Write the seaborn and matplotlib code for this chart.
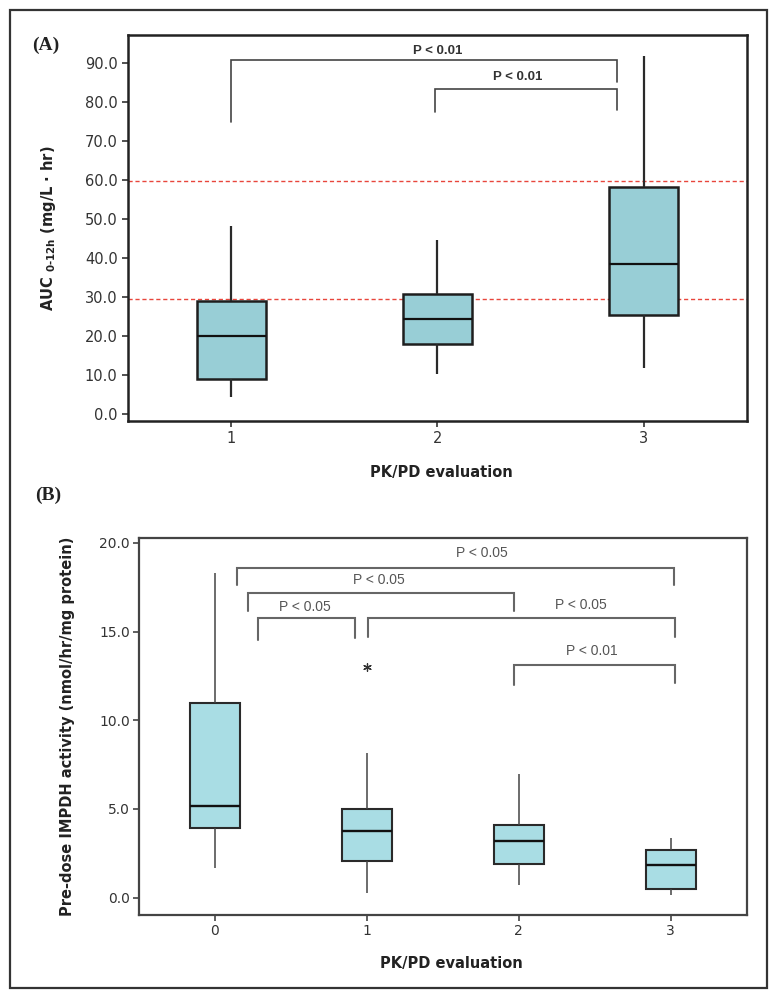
import numpy as np
import pandas as pd
import matplotlib
matplotlib.use("Agg")
import matplotlib.pyplot as plt
import seaborn as sns
from matplotlib.patches import Rectangle

# ---------------- data ----------------
# Panel A: AUC 0-12h by PK/PD evaluation (five-number summaries)
a_groups = ["1", "2", "3"]
a_low = [4.4, 10.3, 11.7]
a_q1 = [8.9, 17.9, 25.4]
a_med = [20.1, 24.3, 38.4]
a_q3 = [29.0, 30.9, 58.3]
a_high = [48.2, 44.6, 91.8]
a_ref_lines = [59.7, 29.5]
a_yticks = [0.0, 10.0, 20.0, 30.0, 40.0, 50.0, 60.0, 70.0, 80.0, 90.0]
# brackets: (x_left, x_right, y_bar, y_left_end, y_right_end, label, text_x, text_y)
a_brackets = [
    (0.00, 1.87, 90.9, 75.0, 85.1, "P < 0.01", 1.00, 93.0),
    (0.99, 1.87, 83.4, 77.4, 77.9, "P < 0.01", 1.39, 86.4),
]

# Panel B: pre-dose IMPDH activity by PK/PD evaluation
b_groups = ["0", "1", "2", "3"]
b_low = [1.66, 0.28, 0.72, 0.15]
b_q1 = [3.95, 2.09, 1.90, 0.49]
b_med = [5.14, 3.76, 3.22, 1.85]
b_q3 = [10.97, 4.99, 4.08, 2.71]
b_high = [18.3, 8.18, 6.96, 3.35]
b_outlier_group = ["1"]
b_outlier_value = [12.98]
b_yticks = [0.0, 5.0, 10.0, 15.0, 20.0]
b_brackets = [
    (0.147, 3.02, 18.59, 17.65, 17.65, "P < 0.05", 1.76, 19.43),
    (0.22, 1.97, 17.18, 16.14, 16.14, "P < 0.05", 1.08, 17.93),
    (0.286, 0.925, 15.77, 14.54, 14.64, "P < 0.05", 0.59, 16.39),
    (1.01, 3.03, 15.77, 14.70, 14.70, "P < 0.05", 2.41, 16.52),
    (1.97, 3.03, 13.13, 12.00, 12.10, "P < 0.01", 2.48, 13.88),
]


def long_frame(groups, low, q1, med, q3, high):
    rows = []
    for g, *vals in zip(groups, low, q1, med, q3, high):
        for v in vals:
            rows.append({"evaluation": g, "value": v})
    return pd.DataFrame(rows)


dfA = long_frame(a_groups, a_low, a_q1, a_med, a_q3, a_high)
dfB = long_frame(b_groups, b_low, b_q1, b_med, b_q3, b_high)

# ---------------- style ----------------
sns.set_style("ticks")
plt.rcParams["font.family"] = ["DejaVu Sans"]
plt.rcParams["mathtext.fontset"] = "custom"
plt.rcParams["mathtext.rm"] = "DejaVu Sans:bold"
plt.rcParams["mathtext.it"] = "DejaVu Sans:bold"

fig = plt.figure(figsize=(7.76, 10.0), dpi=100)
axA = fig.add_axes([128 / 776, 1 - 421 / 1000, (746.7 - 128) / 776, 386 / 1000])
axB = fig.add_axes([139 / 776, 1 - 915 / 1000, (746.7 - 139) / 776, 377 / 1000])

# outer frame
fig.patches.append(Rectangle((9.5 / 776, 1 - 988 / 1000), (767 - 9.5) / 776, (988 - 9.5) / 1000,
                             transform=fig.transFigure, fill=False, edgecolor="#333333",
                             linewidth=1.6, zorder=0))

# ---------------- panel A ----------------
sns.boxplot(data=dfA, x="evaluation", y="value", order=a_groups, color="#98CED6",
            saturation=1, width=0.335, whis=(0, 100), showcaps=False, fliersize=0,
            linecolor="#1e1e1e", linewidth=1.8,
            whiskerprops={"linewidth": 1.6, "color": "#2a2a2a"},
            medianprops={"color": "#111111", "linewidth": 1.6}, ax=axA)
for yv in a_ref_lines:
    axA.axhline(yv, color="#e8463c", linestyle=(0, (3, 2)), linewidth=1.0, zorder=0.5)
for xl, xr, yb, yl, yr, lab, tx, ty in a_brackets:
    axA.plot([xl, xl, xr, xr], [yl, yb, yb, yr], color="#444444", linewidth=1.2,
             solid_joinstyle="miter")
    axA.text(tx, ty, lab, ha="center", va="center", fontsize=9.5, fontweight="bold",
             family="Liberation Sans", color="#333333")
axA.set_xlim(-0.5, 2.5)
axA.set_ylim(-1.8, 97.2)
axA.set_yticks(a_yticks)
axA.set_yticklabels([f"{v:.1f}" for v in a_yticks])
axA.set_xlabel("PK/PD evaluation", fontsize=10.5, fontweight="bold", color="#222222")
axA.set_ylabel(r"AUC $_{\mathregular{0\text{-}12h}}$ (mg/L · hr)",
               fontsize=10.5, fontweight="bold", color="#222222", va="center")
axA.xaxis.set_label_coords(0.506, -0.114)
axA.yaxis.set_label_coords(-0.128, 0.5)
for s in axA.spines.values():
    s.set_visible(True)
    s.set_color("#222222")
    s.set_linewidth(1.8)
axA.tick_params(direction="out", length=4.5, width=1.2, color="#333333",
                labelsize=10.5, labelcolor="#333333", pad=3)
axA.text(46 / 776, 1 - 45 / 1000, "(A)", transform=fig.transFigure, ha="center", va="center",
         fontsize=14, fontweight="bold", family="Liberation Serif", color="#222222")

# ---------------- panel B ----------------
sns.boxplot(data=dfB, x="evaluation", y="value", order=b_groups, color="#A9DDE4",
            saturation=1, width=0.33, whis=(0, 100), showcaps=False, fliersize=0,
            linecolor="#2a2a2a", linewidth=1.5,
            whiskerprops={"linewidth": 1.1, "color": "#444444"},
            medianprops={"color": "#111111", "linewidth": 1.7}, ax=axB)
sns.stripplot(x=b_outlier_group, y=b_outlier_value, order=b_groups, jitter=False,
              marker=(6, 2, 0), s=5.5, color="#333333", edgecolor="#333333",
              linewidth=0.9, ax=axB)
for xl, xr, yb, yl, yr, lab, tx, ty in b_brackets:
    axB.plot([xl, xl, xr, xr], [yl, yb, yb, yr], color="#666666", linewidth=1.5,
             solid_joinstyle="miter")
    axB.text(tx, ty, lab, ha="center", va="center", fontsize=10,
             family="Liberation Sans", color="#555555")
axB.set_xlim(-0.5, 3.5)
axB.set_ylim(-0.98, 20.28)
axB.set_yticks(b_yticks)
axB.set_yticklabels([f"{v:.1f}" for v in b_yticks])
axB.set_xlabel("PK/PD evaluation", fontsize=10.5, fontweight="bold", color="#222222")
axB.set_ylabel("Pre-dose IMPDH activity (nmol/hr/mg protein)", fontsize=10.5,
               fontweight="bold", color="#222222", va="center")
axB.xaxis.set_label_coords(0.514, -0.109)
axB.yaxis.set_label_coords(-0.118, 0.5)
for s in axB.spines.values():
    s.set_visible(True)
    s.set_color("#444444")
    s.set_linewidth(1.6)
axB.tick_params(direction="out", length=4, width=1.2, color="#444444",
                labelsize=10, labelcolor="#333333", pad=2.5)
axB.text(48 / 776, 1 - 495 / 1000, "(B)", transform=fig.transFigure, ha="center", va="center",
         fontsize=14, fontweight="bold", family="Liberation Serif", color="#222222")

fig.savefig("out.png", dpi=100)
